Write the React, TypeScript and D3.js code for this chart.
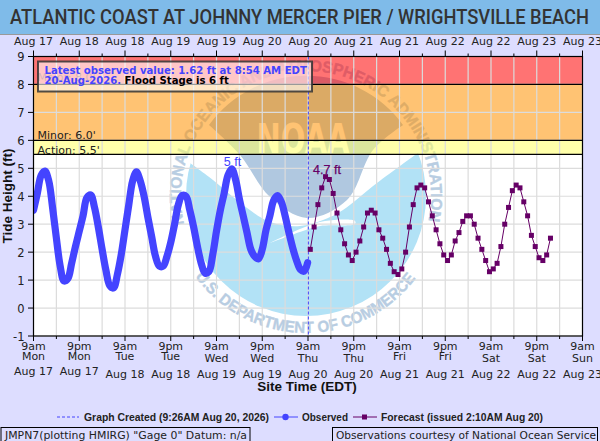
import React from 'react';
import * as d3 from 'd3';

// hours after 9am Mon Aug 17
const obsHours = [0,1,2,3,4,5,6,7,8,9,10,11,12,13,14,15,16,17,18,19,20,21,22,23,24,25,26,27,28,29,30,31,32,33,34,35,36,37,38,39,40,41,42,43,44,45,46,47,48,49,50,51,52,53,54,55,56,57,58,59,60,61,62,63,64,65,66,67,68,69,70,71,71.9];
const obsValues = [3.5,4.1,4.75,4.9,4.55,3.6,2.5,1.5,0.97,1.05,1.6,2.2,2.75,3.3,3.95,4.05,3.6,2.9,2.1,1.35,0.8,0.72,1.2,1.9,2.8,3.7,4.55,4.87,4.55,4.0,3.25,2.55,1.85,1.5,1.5,1.85,2.35,3.0,3.7,4.03,4.0,3.5,2.9,2.2,1.6,1.25,1.3,1.9,2.75,3.5,4.1,4.75,4.98,4.6,3.9,3.3,2.7,2.1,1.85,1.76,2.1,2.8,3.3,3.85,4.02,3.8,3.3,2.7,2.15,1.7,1.38,1.32,1.62];

const fcstStart = 72.6;
const fcstValues = [2.1,2.9,3.7,4.3,4.7,4.6,4.1,3.4,2.8,2.3,1.9,1.7,2.0,2.4,2.9,3.4,3.5,3.4,2.8,2.5,2.1,1.6,1.3,1.2,1.4,2.0,2.9,3.7,4.3,4.4,4.3,3.8,3.3,2.8,2.3,1.9,1.7,1.9,2.4,2.7,3.1,3.3,3.3,3.0,2.5,2.1,1.7,1.3,1.4,1.6,2.2,3.0,3.6,4.2,4.4,4.3,3.8,3.3,2.6,2.2,1.8,1.7,1.9,2.5];

const timeLabels = ['9am','9pm','9am','9pm','9am','9pm','9am','9pm','9am','9pm','9am','9pm','9am'];
const dayLabels = ['Mon','Mon','Tue','Tue','Wed','Wed','Thu','Thu','Fri','Fri','Sat','Sat','Sun'];
const dateLabels = ['Aug 17','Aug 17','Aug 18','Aug 18','Aug 19','Aug 19','Aug 20','Aug 20','Aug 21','Aug 21','Aug 22','Aug 22','Aug 23'];
const topLabels = ['Aug 17','Aug 18','Aug 18','Aug 19','Aug 19','Aug 20','Aug 20','Aug 21','Aug 21','Aug 22','Aug 22','Aug 23','Aug 23'];
const yTicks = [-1,0,1,2,3,4,5,6,7,8,9];
const createdHour = 72.1;

const BLUE = '#4444ff';
const PURPLE = '#660066';
const SANS = '"DejaVu Sans", sans-serif';
const ARIAL = '"Liberation Sans", sans-serif';

const x = d3.scaleLinear().domain([0, 144]).range([33.5, 582.5]);
const y = d3.scaleLinear().domain([-1, 9]).range([336, 56.5]);

const obsPath = d3.line<[number, number]>().x(d => x(d[0])).y(d => y(d[1])).curve(d3.curveCatmullRom)(obsHours.map((h, i) => [h, obsValues[i]] as [number, number])) || '';
const fcstPts = fcstValues.map((v, i) => [fcstStart + i, v] as [number, number]);
const fcstPath = d3.line<[number, number]>().x(d => x(d[0])).y(d => y(d[1]))(fcstPts) || '';

// watermark
const cx = 306;
const cy = 196;
const smooth = d3.line().curve(d3.curveCatmullRom);
const disc = d3.arc()({ innerRadius: 0, outerRadius: 120, startAngle: 0, endAngle: Math.PI * 2 }) || '';
const whiteEdge: [number, number][] = [[186,160],[213,180],[243,205],[270,222],[300,226],[328,218],[343,210],[377,183],[422,150]];
const darkEdge: [number, number][] = [[403,125],[373,150],[347,200],[307,218],[270,197],[240,155],[209,125]];
const tail: [number, number][] = [[270,243],[300,229],[325,221],[355,221],[355,224],[320,226],[300,232],[270,243]];

const deg = Math.PI / 180;
const ringTop = d3.path();
ringTop.arc(cx, cy, 125, (-90 - 103) * deg, (-90 + 103) * deg);
const ringBottom = d3.path();
ringBottom.arc(cx, cy, 137, (90 + 54) * deg, (90 - 54) * deg, true);

const minorTicks = d3.range(0, 145, 6);
const majorTicks = d3.range(0, 145, 12);

const App = () => {
  return (
    <svg width={600} height={441} viewBox="0 0 600 441" style={{ position: 'absolute', left: 0, top: 0, display: 'block' }}>
      <defs>
        <clipPath id="plot"><rect x={x(0)} y={y(9)} width={x(144) - x(0)} height={y(-1) - y(9)} /></clipPath>
        <path id="ringTop" d={ringTop.toString()} />
        <path id="ringBottom" d={ringBottom.toString()} />
      </defs>
      <rect width={600} height={441} fill="#ddddff" />
      <rect width={600} height={34} fill="#7fbbe9" />
      <line x1={0} x2={600} y1={34.5} y2={34.5} stroke="#999" />
      <text x={10} y={24} fontFamily="Roboto, sans-serif" fontWeight={500} fontSize={21} fill="#333" textLength={579} lengthAdjust="spacingAndGlyphs">
        ATLANTIC COAST AT JOHNNY MERCER PIER / WRIGHTSVILLE BEACH
      </text>

      <rect x={x(0)} y={y(9)} width={x(144) - x(0)} height={y(-1) - y(9)} fill="#fff" />

      <g>
        <path d={disc} transform={`translate(${cx},${cy})`} fill="#b2e2f6" />
        <path d={`${smooth(whiteEdge)} A120 120 0 0 0 186 160 Z`} fill="#fff" />
        <path d={`${smooth(darkEdge)} A120 120 0 0 1 403 125 Z`} fill="#b0c8e0" />
        <path d={`${smooth(tail)} Z`} fill="#fff" />
        <text x={303} y={153} textAnchor="middle" fontFamily={SANS} fontWeight={700} fontSize={41} fill="#fff" textLength={93} lengthAdjust="spacingAndGlyphs">NOAA</text>
        <text fontFamily={ARIAL} fontWeight={700} fontSize={16} fill="#b8cde2" stroke="#b8cde2" strokeWidth={0.4}>
          <textPath href="#ringTop" textLength={446} lengthAdjust="spacingAndGlyphs">NATIONAL OCEANIC AND ATMOSPHERIC ADMINISTRATION</textPath>
        </text>
        <text fontFamily={ARIAL} fontWeight={700} fontSize={16} fill="#b8cde2" stroke="#b8cde2" strokeWidth={0.4}>
          <textPath href="#ringBottom" textLength={256} lengthAdjust="spacingAndGlyphs">U.S. DEPARTMENT OF COMMERCE</textPath>
        </text>
      </g>

      <rect x={x(0)} y={y(9)} width={x(144) - x(0)} height={y(8) - y(9)} fill="rgb(255,0,0)" fillOpacity={0.55} />
      <rect x={x(0)} y={y(8)} width={x(144) - x(0)} height={y(6) - y(8)} fill="rgb(255,146,0)" fillOpacity={0.55} />
      <rect x={x(0)} y={y(6)} width={x(144) - x(0)} height={y(5.5) - y(6)} fill="rgb(255,255,100)" fillOpacity={0.55} />

      {minorTicks.map(t => (
        <line key={t} x1={x(t)} x2={x(t)} y1={y(9)} y2={y(-1)} stroke="#dcdcdc" strokeWidth={1.2} />
      ))}
      {yTicks.map(t => (
        <line key={t} x1={x(0)} x2={x(144)} y1={y(t)} y2={y(t)} stroke="#dcdcdc" strokeWidth={1.2} />
      ))}

      {[8, 6, 5.5].map(v => (
        <line key={v} x1={x(0)} x2={x(144)} y1={y(v)} y2={y(v)} stroke="#000" strokeWidth={1.2} />
      ))}

      <g fontFamily={SANS} fontSize={11} fill="#222">
        <text x={37.5} y={81} fillOpacity={0.5}>Major: 8.0'</text>
        <text x={37.5} y={139}>Minor: 6.0'</text>
        <text x={37.5} y={153.5}>Action: 5.5'</text>
      </g>

      <line x1={x(createdHour)} x2={x(createdHour)} y1={y(9)} y2={y(-1)} stroke={BLUE} strokeWidth={1} strokeDasharray="3 2" />

      <path d={obsPath} clipPath="url(#plot)" fill="none" stroke={BLUE} strokeWidth={7.2} strokeLinecap="round" strokeLinejoin="round" />
      <path d={fcstPath} fill="none" stroke={PURPLE} strokeWidth={1} />
      {fcstPts.map((p, i) => (
        <rect key={i} x={x(p[0]) - 2.5} y={y(p[1]) - 2.5} width={5} height={5} fill={PURPLE} />
      ))}

      <text x={232.5} y={166} textAnchor="middle" fontFamily={ARIAL} fontSize={12.5} fill={BLUE}>5 ft</text>
      <text x={327} y={174} textAnchor="middle" fontFamily={ARIAL} fontSize={12.5} fontWeight={500} stroke={PURPLE} strokeWidth={0.25} fill={PURPLE}>4.7 ft</text>

      <rect x={x(0)} y={y(9)} width={x(144) - x(0)} height={y(-1) - y(9)} fill="none" stroke="#000" strokeWidth={1.2} />

      {minorTicks.map(t => {
        const major = t % 12 === 0;
        return (
          <g key={t} stroke="#000">
            <line x1={x(t)} x2={x(t)} y1={y(9)} y2={y(9) - (major ? 6 : 3)} />
            <line x1={x(t)} x2={x(t)} y1={y(-1)} y2={y(-1) + (major ? 5 : 3)} />
          </g>
        );
      })}
      {yTicks.map(t => (
        <g key={t}>
          <line x1={28} x2={x(0)} y1={y(t)} y2={y(t)} stroke="#000" />
          <text x={24.5} y={y(t) + 4.5} textAnchor="end" fontFamily={SANS} fontSize={11.5} fill="#222">{t}</text>
        </g>
      ))}

      <g fontFamily={SANS} fontSize={11} fill="#222" textAnchor="middle">
        {majorTicks.map((t, i) => {
          const day = dayLabels[i];
          const high = day === 'Mon' || day === 'Fri' || (day === 'Tue');
          return (
            <g key={t}>
              <text x={x(t)} y={44.5}>{topLabels[i]}</text>
              <text x={x(t)} y={350}>{timeLabels[i]}</text>
              <text x={x(t)} y={high ? 360 : 362}>{day}</text>
              <text x={x(t)} y={i < 2 ? 375 : 378}>{dateLabels[i]}</text>
            </g>
          );
        })}
      </g>

      <text transform="translate(12,196) rotate(-90)" textAnchor="middle" fontFamily={ARIAL} fontWeight={700} fontSize={13.5} fill="#111">Tide Height (ft)</text>
      <text x={307} y={391} textAnchor="middle" fontFamily={ARIAL} fontWeight={700} fontSize={13.5} fill="#111">Site Time (EDT)</text>

      {/* latest value box */}
      <rect x={38} y={61.5} width={274} height={30} fill="#fff" fillOpacity={0.6} stroke="#333" strokeOpacity={0.85} strokeWidth={2} />
      <g fontFamily={SANS} fontWeight={700} fontSize={10.1}>
        <text x={44.5} y={74} fill={BLUE}>Latest observed value: 1.62 ft at 8:54 AM EDT</text>
        <text x={44.5} y={84} fill={BLUE}>20-Aug-2026. <tspan fill="#000">Flood Stage is 6 ft</tspan></text>
      </g>

      {/* legend */}
      <g fontFamily={ARIAL} fontWeight={700} fontSize={11} fill="#222">
        <line x1={57} x2={79} y1={417} y2={417} stroke={BLUE} strokeDasharray="3 2" />
        <text x={84} y={421} textLength={185} lengthAdjust="spacingAndGlyphs">Graph Created (9:26AM Aug 20, 2026)</text>
        <line x1={274} x2={298} y1={417} y2={417} stroke={BLUE} />
        <circle cx={285.5} cy={417} r={3.2} fill={BLUE} />
        <text x={302} y={421} textLength={46} lengthAdjust="spacingAndGlyphs">Observed</text>
        <line x1={353} x2={377} y1={417} y2={417} stroke={PURPLE} />
        <rect x={362} y={414.5} width={5} height={5} fill={PURPLE} />
        <text x={381} y={421} textLength={162} lengthAdjust="spacingAndGlyphs">Forecast (issued 2:10AM Aug 20)</text>
      </g>

      <g fontFamily={SANS} fontSize={11} fill="#222">
        <rect x={1} y={427.5} width={249} height={16} fill="none" stroke="#000" />
        <text x={5} y={439} textLength={242} lengthAdjust="spacingAndGlyphs">JMPN7(plotting HMIRG) "Gage 0" Datum: n/a</text>
        <rect x={332.5} y={427.5} width={265} height={16} fill="none" stroke="#000" />
        <text x={336} y={439} textLength={260} lengthAdjust="spacingAndGlyphs">Observations courtesy of National Ocean Service</text>
      </g>
    </svg>
  );
};

export default App;
